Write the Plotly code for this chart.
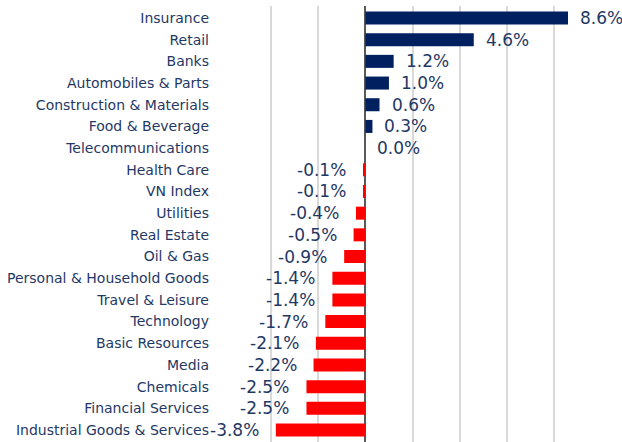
import plotly.graph_objects as go

categories = ["Insurance", "Retail", "Banks", "Automobiles & Parts", "Construction & Materials",
              "Food & Beverage", "Telecommunications", "Health Care", "VN Index", "Utilities",
              "Real Estate", "Oil & Gas", "Personal & Household Goods", "Travel & Leisure",
              "Technology", "Basic Resources", "Media", "Chemicals", "Financial Services",
              "Industrial Goods & Services"]
values = [8.6, 4.6, 1.2, 1.0, 0.6, 0.3, 0.0, -0.1, -0.1, -0.4, -0.5, -0.9, -1.4, -1.4,
          -1.7, -2.1, -2.2, -2.5, -2.5, -3.8]

NAVY = "#002060"
RED = "#FF0000"
TEXT = "#1F3864"
FONT = "DejaVu Sans"

colors = [NAVY if v >= 0 else RED for v in values]

fig = go.Figure()
fig.add_trace(go.Bar(
    x=values, y=categories, orientation="h",
    marker=dict(color=colors, line=dict(width=0)),
    width=0.6, hoverinfo="skip",
))

annotations = []
for c, v in zip(categories, values):
    annotations.append(dict(
        x=v, y=c, xref="x", yref="y", text=f"{v:.1f}%", showarrow=False,
        xanchor="left" if v >= 0 else "right",
        xshift=10 if v >= 0 else -15,
        font=dict(family=FONT, size=17, color=TEXT),
    ))

fig.update_layout(
    width=622, height=442,
    margin=dict(l=224, r=21, t=6, b=0),
    paper_bgcolor="white", plot_bgcolor="white",
    showlegend=False,
    annotations=annotations,
    xaxis=dict(range=[-6, 10], dtick=2, tick0=0, showticklabels=False,
               showgrid=True, gridcolor="#D9D9D9", gridwidth=1.5,
               zeroline=True, zerolinecolor="#595959", zerolinewidth=1.5,
               showline=False, fixedrange=True),
    yaxis=dict(autorange="reversed", showgrid=False, ticks="",
               tickfont=dict(family=FONT, size=14, color=TEXT),
               ticklabelstandoff=14, showline=False, zeroline=False),
)

fig.write_html("out.html")
